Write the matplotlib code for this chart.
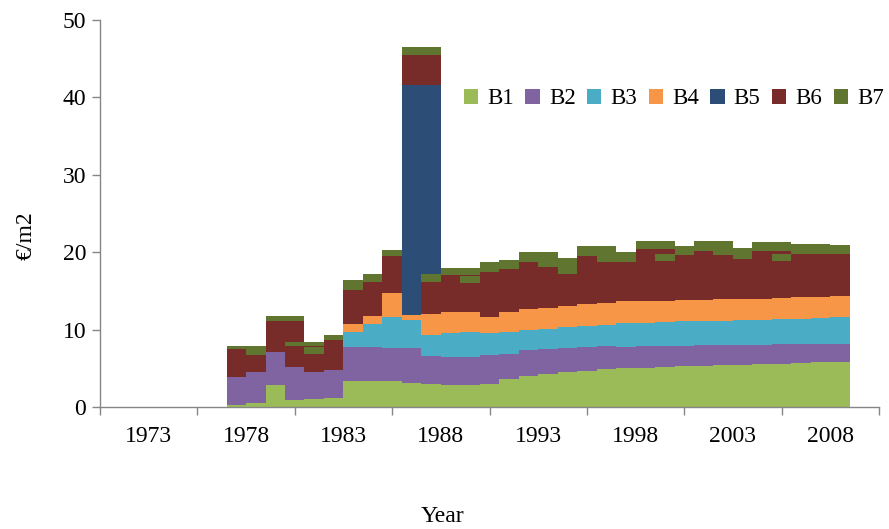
import matplotlib
matplotlib.use("Agg")
import matplotlib.pyplot as plt
import numpy as np

plt.rcParams['font.family'] = ['Liberation Serif', 'DejaVu Serif']

years = list(range(1977, 2009))

b1 = [0.2, 0.5, 2.8, 0.9, 1.0, 1.2, 3.3, 3.4, 3.3, 3.1, 3.0, 2.9, 2.9, 3.0, 3.6, 4.0,
      4.2, 4.5, 4.7, 4.9, 5.0, 5.1, 5.2, 5.25, 5.3, 5.4, 5.45, 5.5, 5.6, 5.65, 5.75, 5.85]
b2 = [3.7, 4.0, 4.3, 4.3, 3.5, 3.6, 4.5, 4.4, 4.3, 4.5, 3.6, 3.6, 3.6, 3.7, 3.3, 3.3,
      3.3, 3.1, 3.1, 3.0, 2.8, 2.75, 2.7, 2.65, 2.65, 2.6, 2.55, 2.55, 2.5, 2.45, 2.4, 2.35]
b3 = [0, 0, 0, 0, 0, 0, 1.9, 2.9, 4.0, 3.6, 2.7, 3.0, 3.2, 2.8, 2.8, 2.6,
      2.6, 2.7, 2.7, 2.7, 3.0, 3.05, 3.1, 3.15, 3.15, 3.15, 3.2, 3.25, 3.25, 3.3, 3.35, 3.4]
b4 = [0, 0, 0, 0, 0, 0, 1.0, 1.1, 3.1, 0.7, 2.7, 2.8, 2.6, 2.1, 2.6, 2.8,
      2.7, 2.8, 2.8, 2.8, 2.9, 2.8, 2.75, 2.75, 2.75, 2.75, 2.75, 2.7, 2.75, 2.75, 2.7, 2.7]
b5 = [0, 0, 0, 0, 0, 0, 0, 0, 0, 29.7, 0, 0, 0, 0, 0, 0,
      0, 0, 0, 0, 0, 0, 0, 0, 0, 0, 0, 0, 0, 0, 0, 0]
b6 = [3.6, 2.2, 4.0, 2.7, 2.4, 3.8, 4.4, 4.3, 4.8, 3.9, 4.2, 4.8, 3.7, 5.9, 5.5, 6.0,
      5.3, 4.1, 6.2, 5.3, 5.0, 6.7, 5.05, 5.8, 6.35, 5.7, 5.15, 6.1, 4.7, 5.65, 5.6, 5.5]
b7 = [0.4, 1.2, 0.6, 0.5, 0.8, 0.7, 1.3, 1.1, 0.8, 1.0, 1.0, 0.8, 0.9, 1.2, 1.2, 1.3,
      1.1, 1.0, 1.3, 0.9, 1.3, 1.1, 1.0, 1.2, 1.2, 1.0, 1.2, 1.2, 1.0, 1.2, 1.1, 1.1]

names = ['B1', 'B2', 'B3', 'B4', 'B5', 'B6', 'B7']
colors = ['#9BBB59', '#8064A2', '#4BACC6', '#F79646', '#2C4D75', '#772C2A', '#5F7530']

tick_labels = ['1973', '1978', '1983', '1988', '1993', '1998', '2003', '2008']

fig = plt.figure(figsize=(8.89, 5.29), dpi=100)
ax = fig.add_axes([100/889, 1 - 407/529, 779/889, 387/529])

pos = np.array(years) - 1970
# each column runs on under the next one (as in the source sheet), last one does not
widths = np.where(pos == pos[-1], 1.0, 2.0)
bottom = np.zeros(len(years))
handles = []
for vals, name, col in zip([b1, b2, b3, b4, b5, b6, b7], names, colors):
    vals = np.array(vals)
    bars = ax.bar(pos - 0.5, vals, width=widths, bottom=bottom, align='edge',
                  color=col, linewidth=0, label=name)
    for k, patch in enumerate(bars.patches):
        patch.set_zorder(2 + k * 0.01)
    handles.append(bars)
    bottom += vals

ax.set_xlim(0, 40)
ax.set_ylim(0, 50)
ax.set_yticks(range(0, 51, 10))
ax.set_xticks(range(0, 41, 5))
ax.set_xticklabels([])
ax.set_xticks(np.arange(2.5, 40, 5), minor=True)
ax.set_xticklabels(tick_labels, minor=True)

axis_col = '#868686'
for s in ['top', 'right']:
    ax.spines[s].set_visible(False)
for s in ['left', 'bottom']:
    ax.spines[s].set_color(axis_col)
    ax.spines[s].set_linewidth(1.0)
ax.tick_params(axis='both', which='major', direction='out', length=6, width=1.0,
               color=axis_col, labelsize=17, labelcolor='black')
ax.tick_params(axis='y', pad=4)
ax.tick_params(axis='x', which='minor', length=0, pad=14, labelsize=17)

fig.text(26/889, 1 - 236/529, '€/m2', rotation=90, ha='center', va='center', fontsize=17)
fig.text(442/889, 1 - 517/529, 'Year', ha='center', va='center', fontsize=17)

fig.legend(handles, names, loc='center left', bbox_to_anchor=(464/889, 1 - 99/529),
           bbox_transform=fig.transFigure, ncol=7, frameon=False, fontsize=16.5,
           handlelength=0.62, handleheight=0.62, handletextpad=0.4,
           columnspacing=0.5, borderpad=0, borderaxespad=0)

fig.savefig('out.png', dpi=100)
